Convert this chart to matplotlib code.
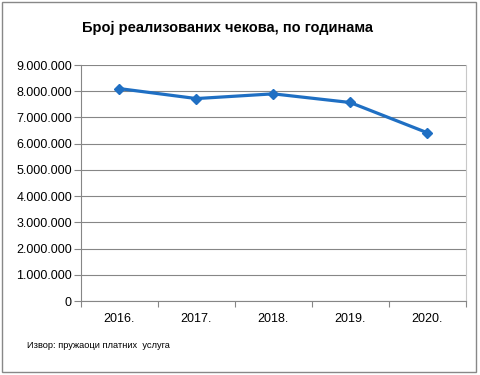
import matplotlib.pyplot as plt
import matplotlib.patches as mpatches
from matplotlib.ticker import FuncFormatter, MultipleLocator
import numpy as np

plt.rcParams['font.family'] = ['Liberation Sans', 'DejaVu Sans']

years = ['2016.', '2017.', '2018.', '2019.', '2020.']
cheques = [8100000, 7720000, 7900000, 7570000, 6420000]

title = 'Број реализованих чекова, по годинама'
source = 'Извор: пружаоци платних  услуга'

line_color = '#1f6fc3'
grid_color = '#868686'

fig = plt.figure(figsize=(4.8, 3.75), dpi=100)
ax = fig.add_axes([81 / 480, 1 - 301 / 375, (465.5 - 81) / 480, (301 - 65) / 375])

x = np.arange(len(years))
ax.plot(x, cheques, color=line_color, lw=2.3, marker='D', markersize=5.5,
        markerfacecolor=line_color, markeredgecolor=line_color, zorder=3)

# y axis: 0 .. 9M with dot thousand separators
ax.set_ylim(0, 9000000)
ax.yaxis.set_major_locator(MultipleLocator(1000000))
ax.yaxis.set_major_formatter(FuncFormatter(lambda v, pos: '{:,.0f}'.format(v).replace(',', '.')))
ax.grid(axis='y', color=grid_color, lw=0.8)
ax.set_axisbelow(True)

# x axis: category labels, ticks between categories
ax.set_xlim(-0.5, len(years) - 0.5)
ax.set_xticks(x)
ax.set_xticklabels(years)
ax.set_xticks(np.arange(len(years) + 1) - 0.5, minor=True)
ax.tick_params(axis='x', which='major', length=0, pad=9, labelsize=9)
ax.tick_params(axis='x', which='minor', length=4, color=grid_color, width=0.8, direction='out')
ax.tick_params(axis='y', length=5, color=grid_color, width=0.8, pad=1.5, labelsize=9)

ax.spines['top'].set_visible(False)
ax.spines['left'].set_color(grid_color)
ax.spines['bottom'].set_color(grid_color)
ax.spines['right'].set_color('#c8c8c8')
for s in ['left', 'bottom', 'right']:
    ax.spines[s].set_linewidth(0.8)

fig.text(228 / 480, 1 - 28 / 375, title, ha='center', va='center',
         fontsize=10.5, fontweight='bold')
fig.text(27 / 480, 1 - 345 / 375, source, ha='left', va='center', fontsize=6.7)

# outer chart border
fig.patches.append(mpatches.Rectangle((1.5 / 480, 1 - 371.5 / 375), 474 / 480, 370 / 375,
                                      transform=fig.transFigure, fill=False,
                                      edgecolor='#888888', lw=1.0))

fig.savefig('out.png', dpi=100)
